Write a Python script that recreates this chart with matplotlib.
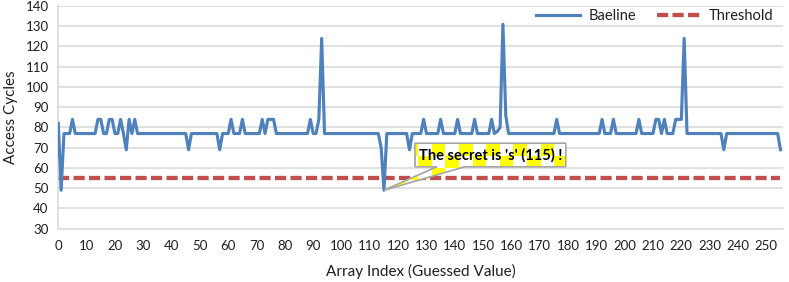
import numpy as np
import matplotlib
matplotlib.use("Agg")
import matplotlib.pyplot as plt
import matplotlib.patches as patches

# ================= data =================
# access time per guessed byte value (0..255)
baseline = [
    82, 49, 77, 77, 77, 84, 77, 77, 77, 77, 77, 77, 77, 77, 84, 84,   # 0-15
    77, 77, 84, 84, 77, 77, 84, 77, 69, 84, 77, 84, 77, 77, 77, 77,   # 16-31
    77, 77, 77, 77, 77, 77, 77, 77, 77, 77, 77, 77, 77, 77, 69, 77,   # 32-47
    77, 77, 77, 77, 77, 77, 77, 77, 77, 69, 77, 77, 77, 84, 77, 77,   # 48-63
    77, 84, 77, 77, 77, 77, 77, 77, 84, 77, 84, 84, 84, 77, 77, 77,   # 64-79
    77, 77, 77, 77, 77, 77, 77, 77, 77, 84, 77, 77, 84, 124, 77, 77,  # 80-95
    77, 77, 77, 77, 77, 77, 77, 77, 77, 77, 77, 77, 77, 77, 77, 77,   # 96-111
    77, 77, 70, 49, 77, 77, 77, 77, 77, 77, 77, 77, 69, 77, 77, 77,   # 112-127
    77, 84, 77, 77, 77, 77, 77, 84, 77, 77, 77, 77, 77, 84, 77, 77,   # 128-143
    77, 77, 77, 84, 77, 77, 77, 77, 77, 84, 77, 78, 80, 131, 86, 77,  # 144-159
    77, 77, 77, 77, 77, 77, 77, 77, 77, 77, 77, 77, 77, 77, 77, 77,   # 160-175
    84, 77, 77, 77, 77, 77, 77, 77, 77, 77, 77, 77, 77, 77, 77, 77,   # 176-191
    84, 77, 77, 77, 84, 77, 77, 77, 77, 77, 77, 77, 77, 84, 77, 77,   # 192-207
    77, 77, 77, 84, 84, 77, 84, 77, 77, 77, 84, 84, 84, 124, 77, 77,  # 208-223
    77, 77, 77, 77, 77, 77, 77, 77, 77, 77, 77, 69, 77, 77, 77, 77,   # 224-239
    77, 77, 77, 77, 77, 77, 77, 77, 77, 77, 77, 77, 77, 77, 77, 69,   # 240-255
]
THRESHOLD = 55
SECRET = 115
x_ticks = list(range(0, 251, 10))
y_ticks = list(range(30, 141, 10))

BLUE = "#4F81BD"
RED = "#C0504D"
GRID = "#D9D9D9"
TEXT = "#1F1F1F"

plt.rcParams['font.family'] = ['Lato', 'DejaVu Sans']

W, H = 789, 282
fig = plt.figure(figsize=(W / 100, H / 100), dpi=100)

# plot area in pixels: left 58, right 783, top 6, bottom 229
ax = fig.add_axes([58.3 / W, 1 - 228.7 / H, (783.3 - 58.3) / W, (228.7 - 6) / H])

idx = np.arange(len(baseline))
ax.plot(idx, baseline, color=BLUE, lw=2.25, label='Baeline', solid_joinstyle='round', zorder=3)
ax.plot(idx, [THRESHOLD] * len(idx), color=RED, lw=3.1, linestyle=(0, (2.6, 1.0)),
        dash_capstyle='butt', label='Threshold', zorder=2)

ax.set_xlim(0, 256)
ax.set_ylim(30, 140)
ax.set_xticks(x_ticks)
ax.set_yticks(y_ticks)
ax.tick_params(axis='both', length=0, labelsize=9.5, colors=TEXT)
ax.tick_params(axis='x', pad=8)
ax.tick_params(axis='y', pad=7)
ax.yaxis.grid(True, color=GRID, lw=1.1)
ax.set_axisbelow(True)
for s in ['top', 'right']:
    ax.spines[s].set_visible(False)
ax.spines['left'].set_color(GRID)
ax.spines['bottom'].set_color(GRID)
ax.spines['left'].set_linewidth(1.1)
ax.spines['bottom'].set_linewidth(1.1)

ax.set_xlabel('Array Index (Guessed Value)', fontsize=11, color=TEXT)
ax.set_ylabel('Access Cycles', fontsize=11, color=TEXT)
ax.xaxis.set_label_coords(0.5, -0.16)
ax.yaxis.set_label_coords(-0.056, 0.5)

ax.legend(loc='center', bbox_to_anchor=(655 / W, 1 - 16 / H), bbox_transform=fig.transFigure,
          ncol=2, frameon=False, fontsize=10.5, handlelength=3.0, columnspacing=1.4,
          handletextpad=0.6, labelcolor=TEXT)

# ---- callout with a yellow checkerboard fill ----
ov = fig.add_axes([0, 0, 1, 1], zorder=5)
ov.set_xlim(0, W)
ov.set_ylim(H, 0)
ov.axis('off')

tip = ov.transData.inverted().transform(ax.transData.transform((SECRET, baseline[SECRET])))
bx0, bx1, by0, by1 = 415, 565.7, 143.3, 166.7
wx0, wx1 = 437, 465
outline = [(bx0, by0), (bx1, by0), (bx1, by1), (wx1, by1), tuple(tip), (wx0, by1), (bx0, by1)]
shape = patches.Polygon(outline, closed=True, facecolor='white', edgecolor='#A6A6A6', lw=1.0, zorder=1)
ov.add_patch(shape)

cw, ch = 13.6, 12.0
x_org, y_org = 418.2, 156.0
for r in range(-2, 4):
    for c in range(-3, 13):
        if (r + c) % 2 == 0:
            cell = patches.Rectangle((x_org + c * cw, y_org + r * ch), cw, ch,
                                     facecolor='#FFFF00', edgecolor='none', zorder=2)
            ov.add_patch(cell)
            cell.set_clip_path(shape)
edge = patches.Polygon(outline, closed=True, facecolor='none', edgecolor='#A6A6A6', lw=1.0, zorder=3)
ov.add_patch(edge)
ov.text((bx0 + bx1) / 2, (by0 + by1) / 2 + 0.5, "The secret is 's' (%d) !" % SECRET,
        ha='center', va='center', fontsize=10.5, fontweight='bold', color='black', zorder=4)

fig.savefig('out.png', dpi=100)
